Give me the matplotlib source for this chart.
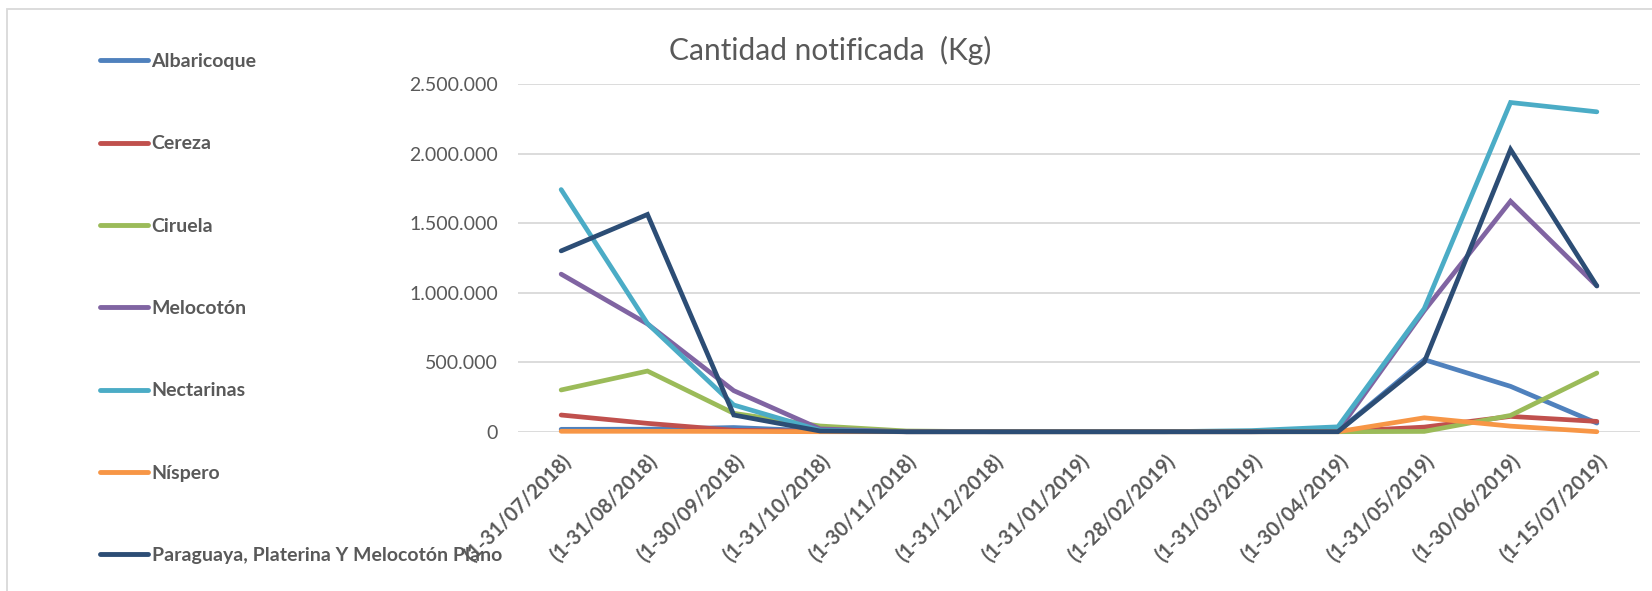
import matplotlib
matplotlib.use('Agg')
import matplotlib.pyplot as plt
from matplotlib.patches import Rectangle
from matplotlib.ticker import FuncFormatter

plt.rcParams['font.family'] = ['Lato', 'DejaVu Sans']

# categorías (periodos)
periodos = ['(1-31/07/2018)', '(1-31/08/2018)', '(1-30/09/2018)', '(1-31/10/2018)',
            '(1-30/11/2018)', '(1-31/12/2018)', '(1-31/01/2019)', '(1-28/02/2019)',
            '(1-31/03/2019)', '(1-30/04/2019)', '(1-31/05/2019)', '(1-30/06/2019)',
            '(1-15/07/2019)']

# cantidades en kg
albaricoque = [17000, 18000, 30000, 5000, 0, 0, 0, 0, 0, 2000, 518000, 326000, 62000]
cereza = [120000, 60000, 10000, 3000, 0, 0, 0, 0, 0, 1000, 33000, 110000, 74000]
ciruela = [300000, 436000, 132000, 41000, 5000, 0, 0, 0, 0, 0, 2000, 117000, 422000]
melocoton = [1133000, 775000, 295000, 20000, 0, 0, 0, 0, 0, 5000, 870000, 1657000, 1048000]
nectarinas = [1741000, 778000, 192000, 10000, 0, 0, 0, 0, 8000, 35000, 885000, 2367000, 2300000]
nispero = [3000, 3000, 2000, 0, 0, 0, 0, 0, 0, 0, 100000, 40000, 0]
paraguaya = [1300000, 1562000, 120000, 5000, 0, 0, 0, 0, 0, 0, 500000, 2029000, 1048000]

series = [
    ('Albaricoque', albaricoque, '#4F81BD'),
    ('Cereza', cereza, '#C0504D'),
    ('Ciruela', ciruela, '#9BBB59'),
    ('Melocotón', melocoton, '#8064A2'),
    ('Nectarinas', nectarinas, '#4BACC6'),
    ('Níspero', nispero, '#F79646'),
    ('Paraguaya, Platerina Y Melocotón Plano', paraguaya, '#2C4D75'),
]

gris = '#595959'
W, H = 1652, 591
fig = plt.figure(figsize=(W / 100, H / 100), dpi=100)
ax = fig.add_axes([518 / W, 1 - 431.7 / H, (1640 - 518) / W, (431.7 - 84) / H])

x = list(range(len(periodos)))
for nombre, vals, col in series:
    ax.plot(x, vals, color=col, lw=3.4, label=nombre, solid_capstyle='round',
            solid_joinstyle='miter', clip_on=False)

ax.set_xlim(-0.5, len(periodos) - 0.5)
ax.set_ylim(0, 2500000)
ax.set_yticks(range(0, 2500001, 500000))
ax.yaxis.set_major_formatter(FuncFormatter(lambda v, p: f'{int(v):,}'.replace(',', '.')))
ax.grid(axis='y', color='#D9D9D9', lw=1.3)
ax.set_axisbelow(True)
for s in ax.spines.values():
    s.set_visible(False)
ax.tick_params(axis='both', length=0, colors=gris)
ax.tick_params(axis='y', labelsize=14, pad=14.5)
ax.set_xticks(x)
ax.set_xticklabels(periodos, rotation=45, ha='right', rotation_mode='anchor',
                   fontsize=14.5, fontweight='bold', color=gris)
ax.tick_params(axis='x', pad=14)

fig.text(830 / W, 1 - 50 / H, 'Cantidad notificada  (Kg)', ha='center', va='center',
         fontsize=21.5, color=gris)

leg = fig.legend(loc='upper left', bbox_to_anchor=(100 / W, 1 - 53 / H),
                 frameon=False, fontsize=14, handlelength=2.45, handletextpad=0.2,
                 labelspacing=3.36, borderpad=0, borderaxespad=0)
for t in leg.get_texts():
    t.set_color(gris)
    t.set_fontweight('bold')
for h in leg.legend_handles:
    h.set_linewidth(3.5)

fig.patches.append(Rectangle((6.5 / W, -0.1), 1.1, 1 - 9 / H + 0.1, transform=fig.transFigure,
                             fill=False, edgecolor='#D9D9D9', lw=1.3))

fig.savefig('out.png', dpi=100, facecolor='white')
